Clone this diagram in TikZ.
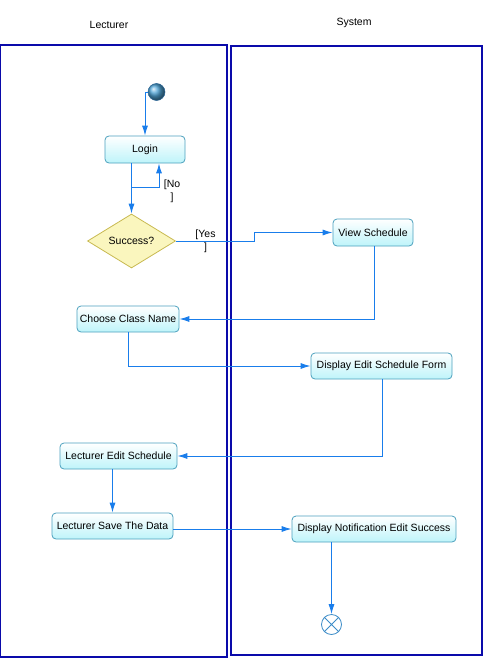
\documentclass[tikz,border=0pt]{standalone}
\usepackage{fontspec}
\setmainfont{Liberation Sans}
\usetikzlibrary{shapes.geometric,arrows.meta,calc}
\definecolor{lane}{RGB}{10,10,170}
\definecolor{flow}{RGB}{25,125,235}
\definecolor{actb}{RGB}{75,160,190}
\definecolor{actf}{RGB}{190,244,250}
\definecolor{decb}{RGB}{200,185,80}
\definecolor{decf}{RGB}{250,246,190}
\tikzset{
  lanebox/.style={draw=lane,line width=1.2pt},
  act/.style={draw=actb,line width=0.8pt,rounded corners=4pt,top color=white,bottom color=actf,
    inner sep=0pt,font=\fontsize{10.5}{13}\selectfont},
  dec/.style={diamond,draw=decb,line width=0.8pt,fill=decf,inner sep=0pt,
    minimum width=88pt,minimum height=54pt,font=\fontsize{10.5}{13}\selectfont},
  arr/.style={draw=flow,line width=0.9pt,-{Latex[length=10pt,width=6pt]}},
  guard/.style={font=\fontsize{10.5}{13}\selectfont,align=center,inner sep=0pt},
  title/.style={font=\fontsize{10.5}{13}\selectfont,inner sep=0pt}
}
\begin{document}
\begin{tikzpicture}[x=1pt,y=-1pt]
\useasboundingbox (0,0) rectangle (483,658);
% swimlanes
\draw[lanebox] (0.8,45) rectangle (227,657);
\draw[lanebox] (231,46) rectangle (482,655);
\node[title] (tl) at (109,25) {Lecturer};
\node[title] (ts) at (354,23) {System};
% nodes
\node[circle,minimum size=17pt,inner sep=0pt,draw={rgb,255:red,40;green,100;blue,150},line width=0.5pt,ball color={rgb,255:red,80;green,165;blue,215}] (start) at (156.5,92) {};
\node[act,minimum width=80pt,minimum height=27pt] (login) at (145,149.5) {Login};
\node[dec] (dia) at (131.5,241) {Success?};
\node[act,minimum width=80pt,minimum height=27pt] (view) at (373,232.5) {View Schedule};
\node[act,minimum width=102pt,minimum height=26pt] (choose) at (128,319) {Choose Class Name};
\node[act,minimum width=141pt,minimum height=26pt] (form) at (381.5,366) {Display Edit Schedule Form};
\node[act,minimum width=117pt,minimum height=26pt] (edit) at (118.5,456) {Lecturer Edit Schedule};
\node[act,minimum width=121pt,minimum height=26pt] (save) at (112.5,526) {Lecturer Save The Data};
\node[act,minimum width=164pt,minimum height=26pt] (notif) at (374,529) {Display Notification Edit Success};
\node[circle,minimum size=20pt,inner sep=0pt,draw={rgb,255:red,60;green,140;blue,200},line width=0.8pt,fill=white] (end) at (331.5,624.5) {};
\draw[draw={rgb,255:red,60;green,140;blue,200},line width=0.8pt] (end.north west) -- (end.south east) (end.north east) -- (end.south west);
% connectors
\draw[arr] (start.west) -| (login.north);
\draw[arr] (login.south -| dia.north) -- (dia.north);
\coordinate (nob) at (131.5,187);
\draw[arr] (nob) -| ($(login.south)+(14,0)$);
\node[guard] (gno) at (172,191) {[No\\]};
\draw[arr] (dia.east) -- ++(79,0) |- (view.west);
\node[guard] (gyes) at (205.5,241) {[Yes\\]};
\draw[arr] ($(view.south)+(1.5,0)$) |- (choose.east);
\draw[arr] (choose.south) |- (form.west);
\draw[arr] ($(form.south)+(1,0)$) |- (edit.east);
\draw[arr] (edit.south -| save.north) -- (save.north);
\draw[arr] (save.east |- notif.west) -- (notif.west);
\draw[arr] (notif.south -| end.north) -- (end.north);
\end{tikzpicture}
\end{document}
